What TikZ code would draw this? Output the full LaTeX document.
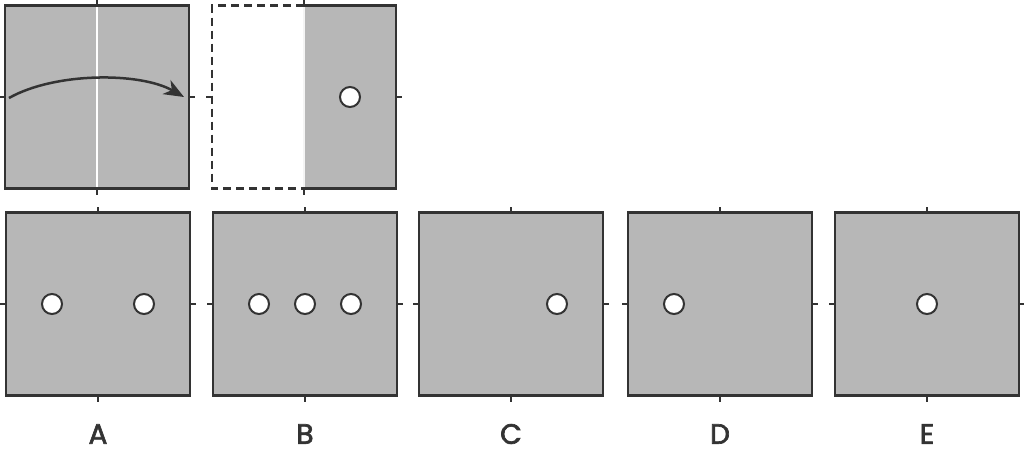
\documentclass[tikz,border=0pt]{standalone}
\usepackage{fontspec}
\newfontfamily\letterfont{Poppins}[FakeBold=2.4]
\usetikzlibrary{positioning,arrows.meta}
\definecolor{sheet}{HTML}{B7B7B7}
\definecolor{ink}{HTML}{333333}
\begin{document}
\begin{tikzpicture}[
      x=1pt,y=-1pt,
      panel/.style={
        draw=ink,
        fill=sheet,
        line width=2.4pt,
        minimum width=184pt,
        minimum height=183pt,
        inner sep=0pt,
        outer sep=0pt
      },
      hole/.style={
        draw=ink,
        fill=white,
        circle,
        line width=2pt,
        minimum size=20pt,
        inner sep=0pt
      },
      tick/.style={
        draw=ink,
        line width=2pt
      },
      answer/.style={
        font=\letterfont\fontsize{28}{28}\selectfont,
        text=ink,
        inner sep=0pt
      }
      ]
      \useasboundingbox (0,0) rectangle (1024,456);

      % folded sheet and the fold line
      \node[panel] (sheet) at (97,97) {};
      \draw[white,line width=2pt] (sheet.north) -- (sheet.south);
      \draw[ink,line width=2.4pt] (sheet.south west) rectangle (sheet.north east);
      \coordinate (foldstart) at (9,98);
      \coordinate (foldend) at (184,97);
      \draw[ink,line width=2.5pt,-{Stealth[length=20pt,width=16pt,inset=6pt]}]
        (foldstart) .. controls (55,72) and (140,72) .. (foldend);

      % sheet after folding, with the punched hole
      \node[minimum width=184pt,minimum height=183pt,inner sep=0pt,outer sep=0pt] (folded) at (304,97) {};
      \fill[sheet] (folded.north) rectangle (folded.south east);
      \draw[white!85!sheet,line width=1.5pt] (folded.north) -- (folded.south);
      \draw[ink,line width=2.4pt,dash pattern=on 8pt off 5pt]
        (folded.north) -| (folded.south west) -- (folded.south);
      \draw[ink,line width=2.4pt]
        (folded.north) -| (folded.south east) -- (folded.south);
      \node[hole] (punch) at ([xshift=46pt]folded.center) {};

      \foreach \p in {sheet,folded} {
        \draw[tick] (\p.north) -- ++(0,-6);
        \draw[tick] (\p.south) -- ++(0,6);
        \draw[tick] (\p.west) -- ++(-6,0);
        \draw[tick] (\p.east) -- ++(6,0);
      }

      % answer choices
      \foreach \name/\cx in {A/98,B/305,C/511,D/720,E/927} {
        \node[panel] (p\name) at (\cx,304) {};
        \draw[tick] (p\name.north) -- ++(0,-6);
        \draw[tick] (p\name.south) -- ++(0,6);
        \draw[tick] (p\name.west) -- ++(-6,0);
        \draw[tick] (p\name.east) -- ++(6,0);
        \node[answer] (l\name) at (\cx,434) {\name};
      }

      \node[hole] (hA1) at ([xshift=-46pt]pA.center) {};
      \node[hole] (hA2) at ([xshift=46pt]pA.center) {};
      \node[hole] (hB1) at ([xshift=-46pt]pB.center) {};
      \node[hole] (hB2) at (pB.center) {};
      \node[hole] (hB3) at ([xshift=46pt]pB.center) {};
      \node[hole] (hC) at ([xshift=46pt]pC.center) {};
      \node[hole] (hD) at ([xshift=-46pt]pD.center) {};
      \node[hole] (hE) at (pE.center) {};
    \end{tikzpicture}
\end{document}
